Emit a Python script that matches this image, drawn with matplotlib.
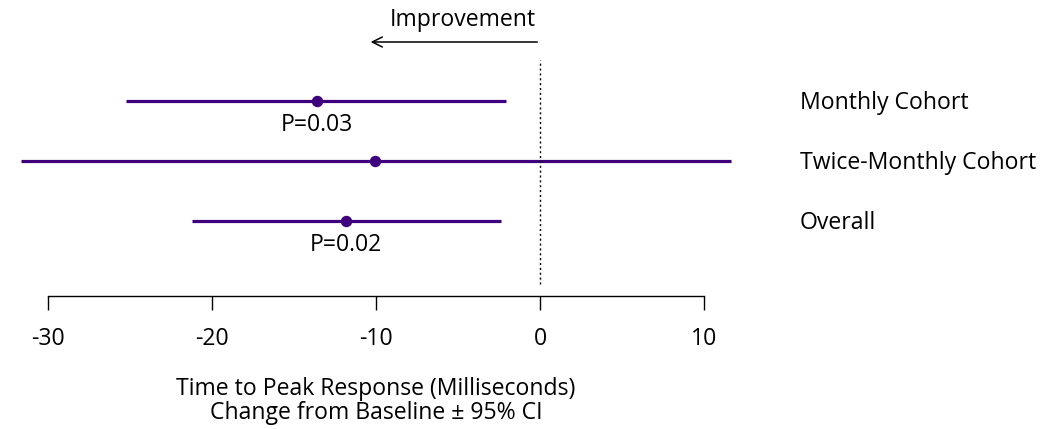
import matplotlib
matplotlib.use("Agg")
import matplotlib.pyplot as plt

plt.rcParams['font.family'] = ['Open Sans', 'DejaVu Sans']

groups = ["Monthly Cohort", "Twice-Monthly Cohort", "Overall"]
estimate = [-13.63, -10.06, -11.86]
ci_low = [-25.25, -31.66, -21.23]
ci_high = [-2.09, 11.63, -2.35]
p_labels = ["P=0.03", None, "P=0.02"]
xticks = [-30, -20, -10, 0, 10]

color = "#3F007D"
rows = [3, 2, 1]
fs = 16.6

fig = plt.figure(figsize=(10.64, 4.29), dpi=100)
ax = fig.add_axes([0, 0, 1, 1])
ax.set_xlim(-32.93, 31.95)
ax.set_ylim(-2.467, 4.683)

for y, est, lo, hi, lab, p in zip(rows, estimate, ci_low, ci_high, groups, p_labels):
    ax.plot([lo, hi], [y, y], color=color, lw=2.3, solid_capstyle='butt')
    ax.plot(est, y, 'o', color=color, ms=7.2)
    ax.text(15.85, y - 0.03, lab, ha='left', va='center', fontsize=fs, color='black')
    if p:
        ax.text(est, y - 0.40, p, ha='center', va='center', fontsize=fs)

ax.plot([0, 0], [-0.05, 3.68], color='black', lw=1, ls=(0, (1.5, 2)))

ax.annotate("", xy=(-10.5, 3.983), xytext=(0, 3.983),
            arrowprops=dict(arrowstyle='->', color='black', lw=1.1,
                            mutation_scale=18))
ax.text(-4.7, 4.35, "Improvement", ha='center', va='center', fontsize=fs)

for s in ['left', 'top', 'right']:
    ax.spines[s].set_visible(False)
ax.spines['bottom'].set_position(('data', -0.25))
ax.spines['bottom'].set_bounds(-30, 10)
ax.spines['bottom'].set_linewidth(1)
ax.set_yticks([])
ax.set_xticks(xticks)
ax.set_xticklabels([str(t) for t in xticks])
ax.tick_params(axis='x', direction='out', length=10, width=1, pad=12, labelsize=fs)

ax.text(-10, -2.0, "Time to Peak Response (Milliseconds)\nChange from Baseline \u00b1 95% CI",
        ha='center', va='center', fontsize=fs, linespacing=1.05)

fig.savefig("out.png", dpi=100)
